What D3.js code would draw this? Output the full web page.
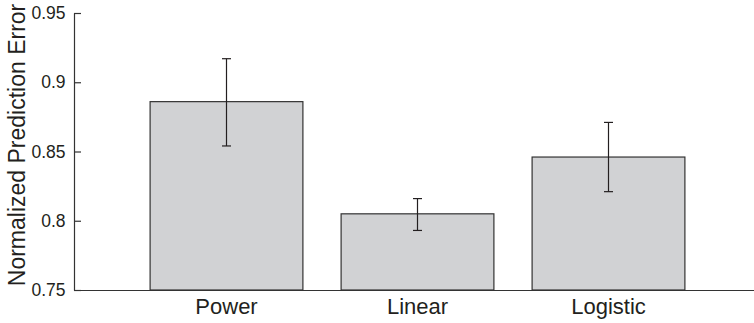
<!DOCTYPE html>
<html>
<head>
<meta charset="utf-8">
<script src="https://cdn.jsdelivr.net/npm/d3@7"></script>
<style>
  body { margin: 0; background: #fff; }
  svg text { font-family: "Liberation Sans", Arial, sans-serif; fill: #231f20; }
</style>
</head>
<body>
<svg></svg>
<script>
const categories = ['Power', 'Linear', 'Logistic'];
const means = [0.886, 0.805, 0.846];
const errLow = [0.854, 0.793, 0.821];
const errHigh = [0.917, 0.816, 0.871];
const yTicks = [0.75, 0.8, 0.85, 0.9, 0.95];

const width = 754, height = 323;
const svg = d3.select('svg').attr('width', width).attr('height', height);

const xScale = d3.scaleBand()
  .domain(categories)
  .range([131, 704])
  .paddingInner(0.2)
  .paddingOuter(0.1);

const yScale = d3.scaleLinear()
  .domain([0.75, 0.95])
  .range([290, 13]);

const data = categories.map((c, i) => ({cat: c, mean: means[i], lo: errLow[i], hi: errHigh[i]}));

// bars
svg.append('g').selectAll('rect')
  .data(data)
  .join('rect')
    .attr('x', d => xScale(d.cat))
    .attr('y', d => yScale(d.mean))
    .attr('width', xScale.bandwidth())
    .attr('height', d => yScale(0.75) - yScale(d.mean))
    .attr('fill', '#d1d2d4')
    .attr('stroke', '#333')
    .attr('stroke-width', 1.2);

// error bars
const eb = svg.append('g').attr('stroke', '#231f20').attr('stroke-width', 1.2);
data.forEach(d => {
  const cx = xScale(d.cat) + xScale.bandwidth() / 2;
  eb.append('line').attr('x1', cx).attr('x2', cx).attr('y1', yScale(d.lo)).attr('y2', yScale(d.hi));
  eb.append('line').attr('x1', cx - 4.5).attr('x2', cx + 4.5).attr('y1', yScale(d.lo)).attr('y2', yScale(d.lo));
  eb.append('line').attr('x1', cx - 4.5).attr('x2', cx + 4.5).attr('y1', yScale(d.hi)).attr('y2', yScale(d.hi));
});

// y axis
const yAxis = svg.append('g')
  .attr('transform', 'translate(74,0)')
  .call(d3.axisRight(yScale)
    .tickValues(yTicks)
    .tickFormat(d => String(d))
    .tickSize(7)
    .tickSizeOuter(0));
yAxis.select('.domain').attr('stroke', '#333').attr('stroke-width', 1.2);
yAxis.selectAll('.tick line').attr('stroke', '#333').attr('stroke-width', 1.2);
yAxis.selectAll('.tick text')
  .attr('x', -8.5)
  .attr('text-anchor', 'end')
  .attr('font-size', 17.5);

// x axis
const xAxis = svg.append('g')
  .attr('transform', 'translate(0,290)')
  .call(d3.axisBottom(xScale).tickSize(0).tickPadding(8));
xAxis.select('.domain')
  .attr('d', 'M74,0.5H754')
  .attr('stroke', '#333')
  .attr('stroke-width', 1.2);
xAxis.selectAll('.tick text').attr('font-size', 22);

// y label
svg.append('text')
  .attr('transform', 'translate(25,145) rotate(-90)')
  .attr('text-anchor', 'middle')
  .attr('font-size', 23)
  .text('Normalized Prediction Error');
</script>
</body>
</html>
